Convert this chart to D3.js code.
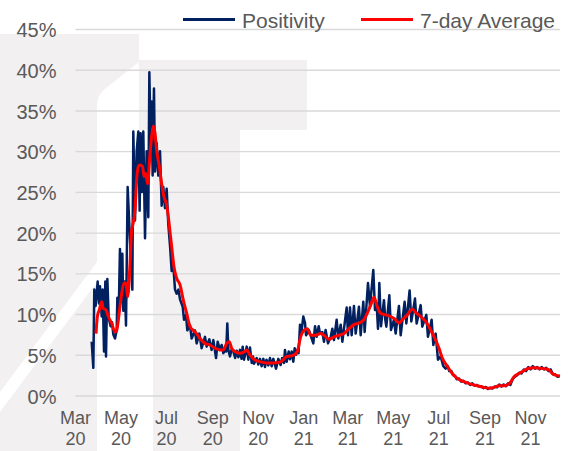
<!DOCTYPE html>
<meta charset="utf-8">
<script src="https://d3js.org/d3.v7.min.js"></script>
<style>
  body { margin: 0; background: #fff; }
  text { font-family: "Liberation Sans", Arial, sans-serif; fill: #595959; }
</style>
<div id="chart"></div>
<script>
// positivity: [days since 1 Mar 2020, percent]
var positivity = [
  [21.7,6.6],[23.9,3.4],[25.2,13.0],[27.0,11.0],[29.7,14.0],[31.5,11.3],[32.8,13.4],[35.1,9.7],[36.4,13.0],[38.2,5.4],
  [40.0,14.0],[40.9,4.8],[42.7,14.3],[44.5,9.5],[47.1,8.5],[48.9,9.0],[50.7,7.5],[53.0,7.0],[55.2,8.0],[56.1,12.0],
  [57.9,10.0],[59.6,18.0],[61.4,12.0],[62.8,17.4],[64.1,10.4],[65.9,14.0],[67.7,8.6],[69.9,25.6],[73.1,19.0],[76.2,13.0],
  [77.5,32.4],[79.8,21.5],[82.0,30.0],[84.2,32.4],[86.0,22.7],[87.3,32.2],[89.1,25.0],[90.9,32.4],[93.2,19.3],[95.4,30.0],
  [97.6,21.9],[99.0,39.7],[100.8,30.5],[102.1,36.1],[103.4,27.0],[105.2,37.7],[106.6,27.5],[108.8,31.0],[111.0,27.0],[113.3,30.0],
  [115.5,23.3],[117.7,25.6],[120.0,23.0],[122.2,25.4],[124.4,21.0],[126.7,18.4],[128.9,15.3],[131.1,16.0],[133.4,13.0],[135.6,12.5],
  [138.0,13.0],[140.1,11.8],[143.7,10.9],[145.5,9.3],[148.1,9.9],[149.9,8.0],[153.5,8.65],[155.7,7.0],[160.2,8.0],[162.4,6.4],
  [166.0,7.6],[169.1,5.8],[173.6,7.2],[175.8,6.0],[179.4,6.9],[182.5,5.6],[184.8,6.8],[188.4,4.6],[190.6,6.6],[193.7,5.6],
  [196.0,6.2],[198.2,5.2],[200.4,5.6],[202.0,5.4],[203.5,8.85],[204.9,5.6],[207.1,4.8],[209.0,5.6],[211.6,5.4],[214.0,4.6],
  [216.1,5.5],[218.3,4.7],[220.5,5.6],[222.5,4.5],[224.1,6.0],[225.9,4.4],[229.5,6.0],[231.7,4.4],[233.9,5.9],[236.2,4.0],
  [238.0,4.8],[239.3,3.9],[242.9,4.6],[245.0,3.8],[247.3,4.5],[249.5,3.6],[251.8,4.5],[254.0,3.5],[256.0,4.4],[258.5,3.7],
  [260.7,4.6],[263.0,3.6],[265.2,4.5],[268.8,3.3],[271.9,4.5],[275.0,3.75],[277.0,4.6],[279.5,4.0],[280.8,5.6],[283.1,4.15],
  [285.8,5.4],[287.5,4.45],[289.8,5.4],[292.0,4.15],[293.8,5.8],[295.6,5.0],[297.5,5.6],[299.0,5.2],[301.0,8.7],[302.7,7.6],
  [305.4,9.7],[307.7,8.9],[309.0,7.4],[313.0,8.0],[315.2,7.4],[318.8,6.4],[321.1,8.5],[323.3,7.2],[326.0,8.5],[327.8,7.6],
  [330.9,7.8],[333.1,6.6],[335.3,8.05],[338.5,6.4],[342.1,7.2],[344.3,8.2],[346.5,6.8],[350.1,9.3],[352.3,7.0],[355.5,8.7],
  [357.7,6.6],[363.5,10.8],[365.3,7.4],[368.0,10.8],[370.2,7.4],[373.3,11.0],[375.6,7.6],[380.0,10.9],[382.3,7.4],[385.8,11.5],
  [387.6,7.8],[392.1,13.8],[394.8,10.9],[396.6,12.75],[399.2,15.4],[401.5,10.5],[403.7,11.3],[405.5,8.2],[407.3,13.8],[409.5,8.5],
  [413.5,11.7],[415.3,9.3],[416.7,8.45],[420.7,12.3],[422.9,8.05],[426.9,9.3],[429.2,7.6],[433.6,11.0],[435.9,7.4],[441.2,11.5],
  [443.5,8.85],[447.9,12.9],[450.2,9.1],[455.1,11.9],[457.3,8.85],[462.7,11.1],[464.9,8.45],[470.3,9.9],[472.5,7.2],[477.4,9.3],
  [479.7,6.2],[482.8,7.6],[485.9,4.4],[489.5,4.8],[493.1,3.6],[496.2,3.3],[499,3.6],[501,3.0],[504,3.0],[506,2.5],
  [509,2.4],[511,2.0],[514,2.1],[517,1.7],[520,1.8],[523,1.5],[526,1.6],[529,1.3],[532,1.5],[535,1.2],
  [538,1.3],[541,1.1],[544,1.15],[547,0.9],[550,1.05],[553,0.8],[556,0.95],[559,0.85],[562,1.1],[565,1.0],
  [568,1.35],[571,1.1],[574,1.35],[577,1.15],[580,1.5],[583,1.3],[586,2.0],[589,2.3],[592,2.5],[595,2.8],
  [598,2.7],[601,3.2],[604,3.0],[607,3.5],[610,3.2],[613,3.6],[616,3.3],[619,3.5],[622,3.2],[625,3.5],
  [628,3.2],[631,3.4],[634,3.0],[637,3.2],[640,2.6],[643,2.6],[646,2.3],[649,2.4]
];

// 7-day average, same layout
var average = [
  [27.5,7.6],[29.3,9.7],[31.9,10.5],[35.1,11.5],[37.3,10.7],[40.9,10.5],[44.0,9.7],[48.5,8.85],[53.0,7.8],[55.2,8.0],
  [58.8,10.3],[61.9,12.5],[65.0,13.8],[67.7,13.8],[69.9,12.1],[73.1,16.2],[75.3,20.3],[76.2,20.7],[79.8,22.8],[82.0,26.5],
  [84.2,28.1],[86.5,28.3],[90.0,28.1],[91.8,26.9],[94.0,27.3],[96.7,26.0],[99.9,29.7],[102.1,31.8],[104.3,33.1],[106.6,32.2],
  [108.8,30.1],[112.4,28.1],[115.5,26.0],[118.6,24.4],[122.2,23.4],[124.4,22.0],[126.7,20.1],[128.9,18.3],[132.0,15.8],[135.6,14.4],
  [140.1,13.6],[144.5,11.7],[149.0,10.1],[153.5,8.45],[157.9,8.0],[162.4,7.6],[166.9,7.0],[173.6,6.4],[180.3,6.2],[187.0,5.8],
  [193.7,5.6],[198.2,5.6],[202.6,6.4],[206.2,6.6],[209.3,5.8],[213.8,5.4],[220.5,5.2],[227.2,5.4],[229.4,5.6],[233.9,4.97],
  [240.6,4.35],[247.3,4.15],[256.2,4.0],[265.2,4.0],[274.1,4.1],[278.6,4.4],[283.1,4.8],[288.4,4.85],[292.9,4.97],[297.4,5.4],
  [301.8,7.2],[306.3,8.0],[310.8,8.2],[315.2,7.4],[321.9,7.4],[328.6,7.6],[335.4,7.2],[339.8,6.9],[346.5,7.2],[353.2,7.4],
  [359.9,7.6],[366.6,8.2],[373.3,8.7],[380.0,8.9],[386.7,9.3],[391.2,10.1],[395.7,11.1],[400.1,12.05],[404.6,10.9],[409.1,10.1],
  [415.8,9.9],[422.5,9.7],[429.2,9.3],[433.6,8.9],[438.1,9.3],[444.8,9.9],[451.5,10.6],[456.0,10.2],[462.7,9.7],[469.4,9.1],
  [476.1,8.05],[482.8,6.8],[487.3,5.8],[491.7,4.6],[498.4,3.6],[505.1,2.7],[511.8,2.1],[520.8,1.7],[529.7,1.4],[538.6,1.2],
  [547.6,1.0],[554.3,0.9],[561.0,1.0],[567.7,1.2],[574.4,1.2],[581.1,1.4],[587.8,2.3],[594.5,2.7],[601.2,3.05],[607.9,3.35],
  [614.6,3.4],[621.3,3.35],[628.0,3.3],[634.7,3.15],[639.2,2.7],[643.6,2.5],[649.5,2.4]
];

var tickDates = ["2020-03-01","2020-05-01","2020-07-01","2020-09-01","2020-11-01",
                 "2021-01-01","2021-03-01","2021-05-01","2021-07-01","2021-09-01","2021-11-01"];
var tickMonths = ["Mar","May","Jul","Sep","Nov","Jan","Mar","May","Jul","Sep","Nov"];
var tickYears = ["20","20","20","20","20","21","21","21","21","21","21"];
var yTicks = [0, 5, 10, 15, 20, 25, 30, 35, 40, 45];

var width = 568, height = 451;
var plotLeft = 75.5, plotRight = 560, plotTop = 29, plotBottom = 395.5;

var start = new Date(2020, 2, 1);
function dayToDate(d) { return new Date(start.getTime() + d * 864e5); }
var parse = d3.timeParse("%Y-%m-%d");

var svg = d3.select("#chart").append("svg")
    .attr("width", width)
    .attr("height", height);

// faint watermark behind the plot
var wm = svg.append("g");
wm.append("path").attr("fill", "#f2f0f0")
  .attr("d", "M0,34H139V60H307V130H240V451H153V130H139V451H0Z");
wm.append("path").attr("fill", "#fff")
  .attr("d", "M97,451V106Q97,94 106,88L139,62V130H153V451Z");
wm.append("path").attr("fill", "#fff")
  .attr("d", "M0,392L97,262V282L0,412Z");

var x = d3.scaleTime()
    .domain([start, dayToDate(649.5)])
    .range([plotLeft, plotRight]);

var y = d3.scaleLinear()
    .domain([0, 45])
    .range([plotBottom, plotTop]);

// y axis + gridlines
var yAxis = svg.append("g")
    .attr("transform", "translate(" + plotLeft + ",0)")
    .call(d3.axisLeft(y)
      .tickValues(yTicks)
      .tickSize(-(plotRight - plotLeft))
      .tickPadding(19)
      .tickFormat(function(d) { return d + "%"; }));
yAxis.attr("font-family", null).attr("font-size", null);
yAxis.select(".domain").remove();
yAxis.selectAll(".tick line")
    .attr("stroke", "#d9d9d9")
    .attr("stroke-width", 1.4);
yAxis.selectAll(".tick text")
    .attr("dy", "0.38em")
    .attr("fill", "#595959")
    .style("font-size", "20px");

// x labels, two lines
var xl = svg.append("g");
tickDates.forEach(function(t, i) {
  var tx = xl.append("text")
      .attr("text-anchor", "middle")
      .style("font-size", "18px");
  tx.append("tspan").attr("x", x(parse(t))).attr("y", 424).text(tickMonths[i]);
  tx.append("tspan").attr("x", x(parse(t))).attr("y", 445).text(tickYears[i]);
});

var line = d3.line()
    .x(function(d) { return x(dayToDate(d[0])); })
    .y(function(d) { return y(d[1]); });

svg.append("path")
    .datum(positivity)
    .attr("fill", "none")
    .attr("stroke", "#002060")
    .attr("stroke-width", 2.5)
    .attr("stroke-linejoin", "round")
    .attr("d", line);

svg.append("path")
    .datum(average)
    .attr("fill", "none")
    .attr("stroke", "#ff0000")
    .attr("stroke-width", 3)
    .attr("stroke-linejoin", "round")
    .attr("d", line.curve(d3.curveMonotoneX));

// legend
var legend = [
  {name: "Positivity", color: "#002060", x0: 183, tx: 242},
  {name: "7-day Average", color: "#ff0000", x0: 361, tx: 420}
];
legend.forEach(function(l) {
  svg.append("line")
      .attr("x1", l.x0).attr("x2", l.x0 + 52)
      .attr("y1", 19.5).attr("y2", 19.5)
      .attr("stroke", l.color)
      .attr("stroke-width", 3);
  svg.append("text")
      .attr("x", l.tx).attr("y", 27.5)
      .style("font-size", "21px")
      .text(l.name);
});
</script>
